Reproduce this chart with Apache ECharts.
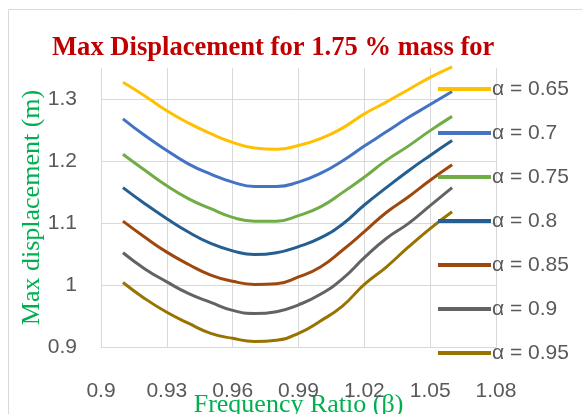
<!DOCTYPE html>
<html>
<head>
<meta charset="utf-8">
<script src="https://cdn.jsdelivr.net/npm/echarts@6/dist/echarts.min.js"></script>
<style>
  html, body { margin: 0; padding: 0; background: #fff; }
  #chart { width: 582px; height: 414px; }
</style>
</head>
<body>
<div id="chart"></div>
<script>
// frequency ratio (beta) values
const beta = [0.91, 0.92, 0.93, 0.94, 0.95, 0.96, 0.97, 0.98, 0.99, 1.00, 1.01, 1.02, 1.03, 1.04, 1.05, 1.06]

// max displacement (m) for each alpha
const a065 = [1.327, 1.305, 1.281, 1.261, 1.244, 1.230, 1.221, 1.219, 1.225, 1.236, 1.253, 1.276, 1.295, 1.315, 1.335, 1.352]
const a070 = [1.268, 1.241, 1.217, 1.195, 1.179, 1.166, 1.159, 1.159, 1.166, 1.180, 1.200, 1.224, 1.247, 1.270, 1.291, 1.312]
const a075 = [1.211, 1.185, 1.160, 1.139, 1.123, 1.109, 1.103, 1.103, 1.112, 1.126, 1.149, 1.174, 1.201, 1.224, 1.249, 1.272]
const a080 = [1.157, 1.131, 1.107, 1.085, 1.067, 1.055, 1.049, 1.052, 1.062, 1.076, 1.098, 1.129, 1.157, 1.184, 1.209, 1.233]
const a085 = [1.103, 1.077, 1.053, 1.033, 1.016, 1.006, 1.001, 1.002, 1.013, 1.029, 1.056, 1.086, 1.117, 1.142, 1.169, 1.194]
const a090 = [1.052, 1.026, 1.005, 0.986, 0.972, 0.959, 0.954, 0.957, 0.968, 0.985, 1.010, 1.044, 1.075, 1.099, 1.128, 1.157]
const a095 = [1.004, 0.978, 0.956, 0.938, 0.922, 0.914, 0.909, 0.911, 0.922, 0.942, 0.966, 1.001, 1.029, 1.061, 1.091, 1.118]

const names = ['α = 0.65', 'α = 0.7', 'α = 0.75', 'α = 0.8', 'α = 0.85', 'α = 0.9', 'α = 0.95']
const values = [a065, a070, a075, a080, a085, a090, a095]
const colors = ['#FFC000', '#4472C4', '#70AD47', '#255E91', '#9E480E', '#636363', '#997300']

var myChart = echarts.init(document.getElementById('chart'))

var series = names.map(function (n, i) {
  return {
    name: n,
    type: 'line',
    smooth: 0.5,
    symbol: 'none',
    clip: false,
    data: beta.map(function (b, j) { return [b, values[i][j]] }),
    lineStyle: { width: 3, color: colors[i] },
    itemStyle: { color: colors[i] },
  }
})

var option = {
  animation: false,
  graphic: [
    {
      type: 'rect',
      shape: { x: 8.5, y: 9.5, width: 600, height: 420 },
      style: { fill: 'none', stroke: '#d9d9d9', lineWidth: 1 },
      silent: true,
    },
  ],
  title: {
    text: 'Max Displacement for 1.75 % mass for',
    left: 47,
    top: 30,
    textStyle: {
      fontFamily: 'Liberation Serif',
      fontWeight: 'bold',
      fontSize: 26.6,
      color: '#C00000',
    },
  },
  legend: {
    orient: 'vertical',
    left: 433,
    top: 73,
    icon: 'rect',
    itemWidth: 53,
    itemHeight: 4,
    itemGap: 22,
    data: names,
    textStyle: {
      fontFamily: 'Liberation Sans',
      fontSize: 21,
      lineHeight: 22,
      color: '#595959',
      padding: [0, 0, 0, -4],
    },
  },
  grid: {
    left: 101,
    right: 86,
    top: 68,
    bottom: 67,
    outerBoundsMode: 'none',
    containLabel: false,
  },
  xAxis: {
    type: 'value',
    min: 0.9,
    max: 1.08,
    interval: 0.03,
    name: 'Frequency Ratio (β)',
    nameLocation: 'middle',
    nameGap: 45,
    nameMoveOverlap: false,
    nameTextStyle: {
      fontFamily: 'Liberation Serif',
      fontSize: 26,
      color: '#00B050',
    },
    axisLine: { lineStyle: { color: '#d9d9d9', width: 1 } },
    axisTick: { show: false },
    axisLabel: {
      margin: 34,
      fontFamily: 'Liberation Sans',
      fontSize: 21,
      color: '#595959',
      formatter: function (v) { return +v.toFixed(2) + '' },
    },
    splitLine: { show: true, lineStyle: { color: '#d9d9d9', width: 1 } },
  },
  yAxis: {
    type: 'value',
    min: 0.9,
    max: 1.35,
    interval: 0.1,
    name: 'Max displacement (m)',
    nameLocation: 'middle',
    nameGap: 56,
    nameMoveOverlap: false,
    nameTextStyle: {
      fontFamily: 'Liberation Serif',
      fontSize: 26,
      color: '#00B050',
    },
    axisLine: { show: false },
    axisTick: { show: false },
    axisLabel: {
      margin: 24,
      fontFamily: 'Liberation Sans',
      fontSize: 21,
      color: '#595959',
      showMaxLabel: false,
      formatter: function (v) { return +v.toFixed(2) + '' },
    },
    splitLine: { show: true, showMaxLine: false, lineStyle: { color: '#d9d9d9', width: 1 } },
  },
  series: series,
}

myChart.setOption(option)
</script>
</body>
</html>
